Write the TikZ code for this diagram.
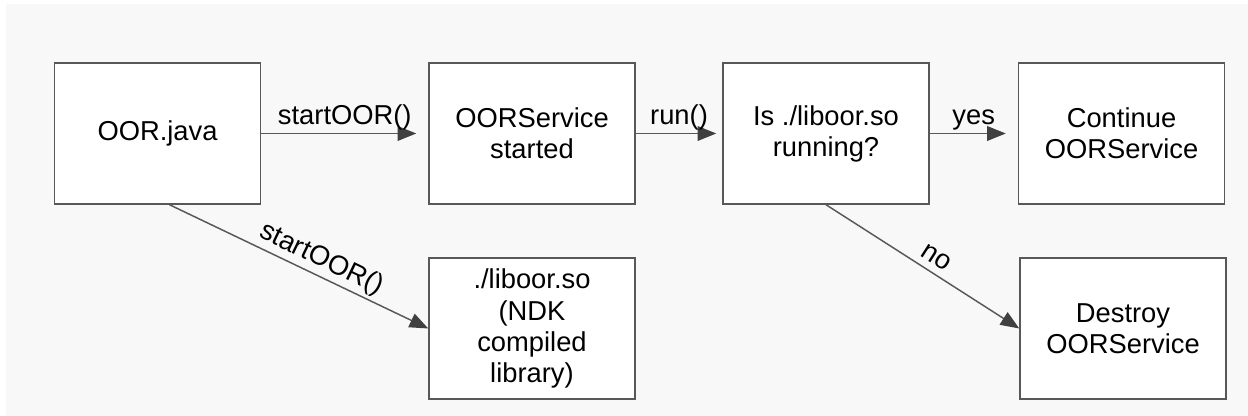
\documentclass[tikz,border=0pt]{standalone}
\usepackage{fontspec}
\setmainfont{Liberation Sans}
\usetikzlibrary{arrows.meta}
\definecolor{bggray}{RGB}{248,248,248}
\definecolor{linegray}{RGB}{88,88,88}
\definecolor{tipgray}{RGB}{64,64,64}

\begin{document}
\begin{tikzpicture}[x=0.75pt,y=0.75pt,yscale=-1,xscale=1,
    box/.style={draw=linegray, line width=1.1pt, fill=white, minimum width=154.5pt, minimum height=105.75pt, inner sep=0pt, align=center, font=\fontsize{20.5}{23.3}\selectfont},
    flow/.style={draw=linegray, line width=1.1pt, -{Triangle[length=14pt,width=11pt,color=tipgray]}},
    lbl/.style={inner sep=2pt, font=\fontsize{20.5}{23.3}\selectfont}]
        \useasboundingbox (0,0) rectangle (1248,416);
        %Background
        \fill[bggray] (6,4) rectangle (1248,416);

        %Shape: Rectangle (top row)
        \node[box] (oor) at (157.5,133.5) {OOR.java};
        \node[box] (started) at (532,133.5) {OORService\\started};
        \node[box] (check) at (826,133.5) {Is ./liboor.so\\running?};
        \node[box] (cont) at (1121.5,133.5) {Continue\\OORService};
        %Shape: Rectangle (bottom row)
        \node[box] (lib) at (532,328.5) {./liboor.so\\(NDK\\compiled\\library)};
        \node[box] (destroy) at (1123,328.5) {Destroy\\OORService};

        %Straight Lines
        \draw[flow, shorten >=9pt] (oor) -- node[lbl, above] {startOOR()} (started);
        \draw[flow, shorten >=4.5pt] (started) -- node[lbl, above] {run()} (check);
        \draw[flow, shorten >=9pt] (check) -- node[lbl, above] {yes} (cont);
        \draw[flow] ([xshift=9pt]oor.south) -- node[lbl, above, rotate=-25.7, pos=0.56] {startOOR()} (lib.west);
        \draw[flow] (check.south) -- node[lbl, above, rotate=-32.7, pos=0.53, inner sep=5pt] {no} (destroy.west);
\end{tikzpicture}
\end{document}
